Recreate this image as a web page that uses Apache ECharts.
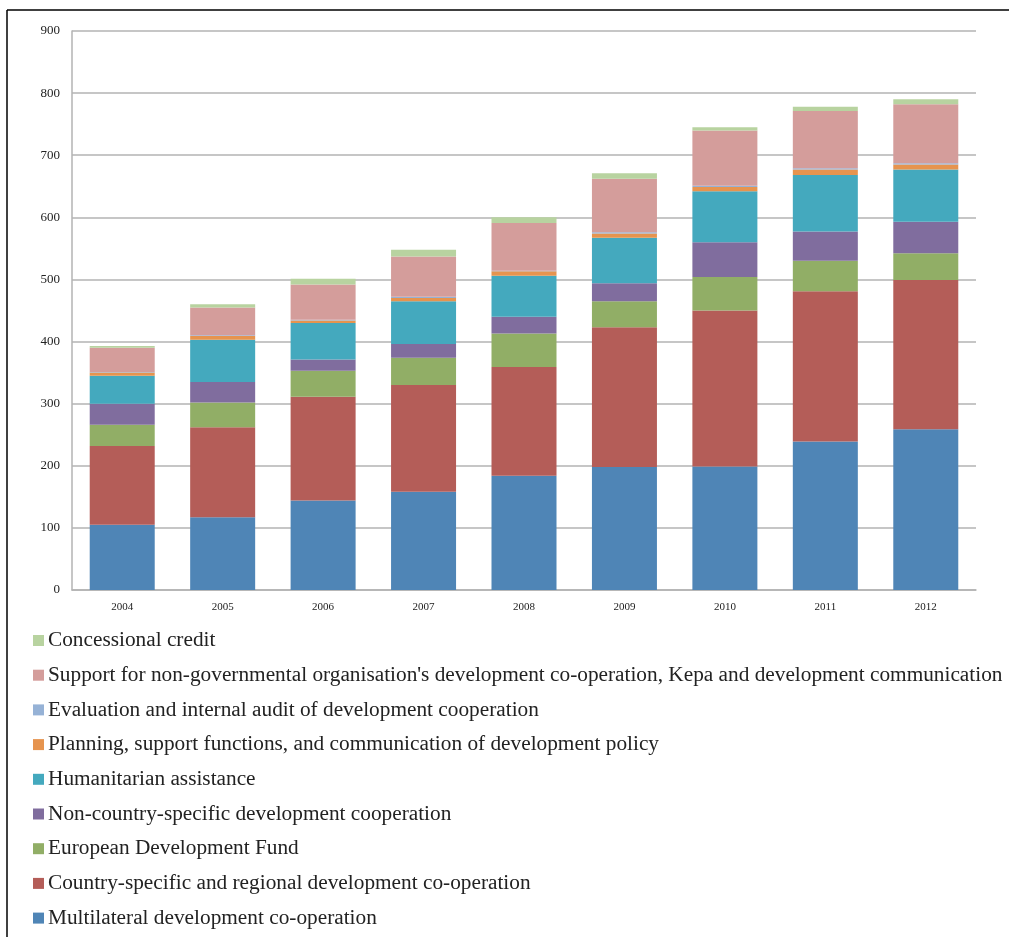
<!DOCTYPE html>
<html>
<head>
<meta charset="utf-8">
<script src="https://cdn.jsdelivr.net/npm/echarts@6/dist/echarts.min.js"></script>
<style>html,body{margin:0;padding:0;background:#fff}#c{width:1009px;height:937px}</style>
</head>
<body>
<div id="c"></div>
<script>
const years = ['2004','2005','2006','2007','2008','2009','2010','2011','2012'];
const multilateral = [105,117,144,158,184,198,199,239,259];
const countrySpecific = [127,145,167,172,175,225,251,242,240];
const edf = [34,40,42,44,54,42,54,49,43];
const nonCountry = [34,33,18,22,27,29,56,47,51];
const humanitarian = [45,68,59,69,66,73,82,91,84];
const planning = [5,6,4,5,7,7,7,9,8];
const evaluation = [1,1,1,2,1,2,2,2,2];
const ngo = [39,45,57,65,77,86,89,92,95];
const credit = [3,5,9,11,9,9,5,7,8];
const yTicks = {min:0, max:900, interval:100};

const seriesDefs = [
  ['Multilateral development co-operation', multilateral, '#4F85B6'],
  ['Country-specific and regional development co-operation', countrySpecific, '#B45D58'],
  ['European Development Fund', edf, '#91AE66'],
  ['Non-country-specific development cooperation', nonCountry, '#806D9E'],
  ['Humanitarian assistance', humanitarian, '#44A9BE'],
  ['Planning, support functions, and communication of development policy', planning, '#E6944F'],
  ['Evaluation and internal audit of development cooperation', evaluation, '#96B2D6'],
  ["Support for non-governmental organisation's development co-operation, Kepa and development communication", ngo, '#D49D9B'],
  ['Concessional credit', credit, '#B8D3A0']
];

const chart = echarts.init(document.getElementById('c'));
const serif = '"Liberation Serif", "DejaVu Serif", serif';
chart.setOption({
  animation: false,
  backgroundColor: '#fff',
  textStyle: {fontFamily: serif},
  grid: {left: 72, right: 33, top: 31, bottom: 347, containLabel: false},
  xAxis: {
    type: 'category', data: years,
    axisLine: {lineStyle: {color: '#b3b3b3', width: 1.5}},
    axisTick: {show: false},
    axisLabel: {color: '#222', fontSize: 11, fontFamily: serif, margin: 12}
  },
  yAxis: {
    type: 'value', min: yTicks.min, max: yTicks.max, interval: yTicks.interval,
    axisLine: {show: true, lineStyle: {color: '#b3b3b3', width: 1.5}},
    axisTick: {show: false},
    axisLabel: {color: '#222', fontSize: 13, fontFamily: serif, margin: 12},
    splitLine: {lineStyle: {color: '#b3b3b3', width: 1.5}}
  },
  legend: {
    orient: 'vertical', left: 28, top: 625,
    itemWidth: 11, itemHeight: 11, itemGap: 13.7, icon: 'rect',
    textStyle: {color: '#222', fontSize: 21.3, lineHeight: 21, fontFamily: serif, padding: [0,0,0,-1]},
    data: seriesDefs.map(d => d[0]).reverse()
  },
  graphic: [
    {type: 'line', shape: {x1: 7, y1: 10, x2: 1009, y2: 10}, style: {stroke: '#000', lineWidth: 1.5}},
    {type: 'line', shape: {x1: 7, y1: 10, x2: 7, y2: 937}, style: {stroke: '#000', lineWidth: 1.5}}
  ],
  series: seriesDefs.map(d => ({
    name: d[0], type: 'bar', stack: 'total', data: d[1],
    barWidth: 65,
    itemStyle: {color: d[2]}
  }))
});
</script>
</body>
</html>
